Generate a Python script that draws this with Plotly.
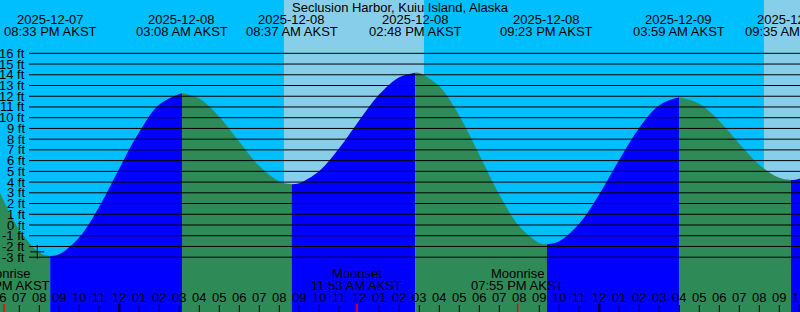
import pandas as pd
import plotly.graph_objects as go

# ---------------- data ----------------
station = "Seclusion Harbor, Kuiu Island, Alaska"
tz_label = "AKST"

tide_times = ["2025-12-07 20:33", "2025-12-08 03:08", "2025-12-08 08:37",
              "2025-12-08 14:48", "2025-12-08 21:23", "2025-12-09 03:59",
              "2025-12-09 09:35"]
tide_heights = [-2.9, 12.3, 3.8, 14.2, -1.8, 11.9, 4.2]

# hourly water level (ft), from 2025-12-07 18:00 onward
sample_start = "2025-12-07 18:00"
sample_heights = [3.12, -0.45, -2.58, -2.73, -1.15, 1.73,
                  5.27, 8.69, 11.22, 12.28, 11.79, 10.09, 7.75, 5.49, 4.06, 3.90,
                  5.03, 7.17, 9.77, 12.18, 13.78, 14.16, 12.92, 10.18, 6.55, 2.84,
                  -0.12, -1.67, -1.51, 0.13,
                  2.87, 6.08, 9.07, 11.16, 11.90, 11.29, 9.69, 7.58, 5.62, 4.40,
                  4.32, 5.51]

moon_times = ["2025-12-07 18:14", "2025-12-08 11:53", "2025-12-08 19:55"]
moon_events = ["Moonrise", "Moonset", "Moonrise"]

daylight_start = ["2025-12-08 08:14", "2025-12-09 08:14"]
daylight_end = ["2025-12-08 15:14", "2025-12-09 15:14"]

levels_ft = list(range(-3, 17))
hour_ticks_start = "2025-12-07 18:00"
hour_ticks_end = "2025-12-09 10:00"

mark_time = ["2025-12-07 19:54"]
mark_level = [-2.5]

view_start = "2025-12-07 18:02:06"
view_end = "2025-12-09 10:02:06"
y_view = [-8.108, 20.969]

# ---------------- style ----------------
W, H = 800, 312
NIGHT = "#00BFFF"
DAY = "#87CEEB"
RISING = "#0000FF"
FALLING = "#2E8B57"
FONT = dict(family="Liberation Sans, Arial, sans-serif", size=13, color="black")

v0, v1 = pd.Timestamp(view_start), pd.Timestamp(view_end)


def py(px):
    """pixel row from top -> paper fraction"""
    return 1 - px / H


def px_of(t):
    """time -> paper x fraction along the time axis (may fall outside 0..1)"""
    return (pd.Timestamp(t) - v0) / (v1 - v0)


fig = go.Figure()

# ---------------- tide fill ----------------
ext = pd.to_datetime(tide_times)
samples = pd.Series(sample_heights,
                    index=pd.date_range(sample_start, periods=len(sample_heights), freq="h"))
keep = [all(abs((t - e).total_seconds()) > 600 for e in ext) for t in samples.index]
samples = samples[keep]
curve = pd.concat([samples, pd.Series(tide_heights, index=ext)]).sort_index()

bounds = [curve.index[0]] + list(ext) + [curve.index[-1]]
floor = y_view[0] - 1
for a, b in zip(bounds[:-1], bounds[1:]):
    seg = curve[(curve.index >= a) & (curve.index <= b)]
    if len(seg) < 2:
        continue
    color = RISING if seg.iloc[-1] > seg.iloc[0] else FALLING
    fig.add_trace(go.Scatter(x=[a, b], y=[floor, floor], mode="lines",
                             line=dict(width=0), hoverinfo="skip", showlegend=False))
    fig.add_trace(go.Scatter(x=seg.index, y=seg.values, mode="lines",
                             line=dict(width=0, shape="spline", smoothing=1),
                             fill="tonexty", fillcolor=color,
                             hoverinfo="skip", showlegend=False))

fig.add_trace(go.Scatter(x=pd.to_datetime(mark_time), y=mark_level, mode="markers",
                         marker=dict(symbol="cross-thin", size=10,
                                     line=dict(width=1, color="black")),
                         hoverinfo="skip", showlegend=False))

shapes = []
# daylight backgrounds
for s, e in zip(daylight_start, daylight_end):
    shapes.append(dict(type="rect", xref="x", yref="paper", x0=s, x1=e, y0=0, y1=1,
                       fillcolor=DAY, line=dict(width=0), layer="below"))
# level lines
for lv in levels_ft:
    shapes.append(dict(type="line", xref="paper", yref="y", x0=29 / W, x1=1,
                       y0=lv, y1=lv, line=dict(color="black", width=1), layer="above"))

annotations = []
for lv in levels_ft:
    annotations.append(dict(xref="paper", yref="y", x=27 / W, y=lv, text=f"{lv} ft",
                            xanchor="right", yanchor="middle", showarrow=False, font=FONT))

# hour ticks
moon_dt = pd.to_datetime(moon_times)
for t in pd.date_range(hour_ticks_start, hour_ticks_end, freq="h"):
    annotations.append(dict(xref="paper", yref="paper", x=px_of(t), y=py(297.5),
                            text=t.strftime("%I"), xanchor="center", yanchor="middle",
                            showarrow=False, font=FONT))
    if any(abs((t - m).total_seconds()) < 1800 for m in moon_dt):
        continue
    midnight = t.hour == 0
    shapes.append(dict(type="line", xref="x", yref="paper", x0=t, x1=t,
                       y0=0, y1=(9 if midnight else 7) / H,
                       line=dict(color="black", width=2 if midnight else 1), layer="above"))

# moon events
for m, ev in zip(moon_dt, moon_events):
    shapes.append(dict(type="line", xref="x", yref="paper", x0=m, x1=m, y0=0, y1=8 / H,
                       line=dict(color="red", width=1.5), layer="above"))
    annotations.append(dict(xref="paper", yref="paper", x=px_of(m), y=py(273), text=ev,
                            xanchor="center", yanchor="middle", showarrow=False, font=FONT))
    annotations.append(dict(xref="paper", yref="paper", x=px_of(m), y=py(285.5),
                            text=m.strftime("%I:%M %p ") + tz_label,
                            xanchor="center", yanchor="middle", showarrow=False, font=FONT))

# tide headers
for t in ext:
    annotations.append(dict(xref="paper", yref="paper", x=px_of(t), y=py(19.5),
                            text=t.strftime("%Y-%m-%d"),
                            xanchor="center", yanchor="middle", showarrow=False, font=FONT))
    annotations.append(dict(xref="paper", yref="paper", x=px_of(t), y=py(31.5),
                            text=t.strftime("%I:%M %p ") + tz_label,
                            xanchor="center", yanchor="middle", showarrow=False, font=FONT))

annotations.append(dict(xref="paper", yref="paper", x=0.5, y=py(7.5), text=station,
                        xanchor="center", yanchor="middle", showarrow=False, font=FONT))

fig.update_layout(
    width=W, height=H, margin=dict(l=0, r=0, t=0, b=0),
    paper_bgcolor=NIGHT, plot_bgcolor=NIGHT,
    xaxis=dict(type="date", range=[view_start, view_end], visible=False, fixedrange=True),
    yaxis=dict(range=y_view, visible=False, fixedrange=True),
    shapes=shapes, annotations=annotations, showlegend=False,
)

fig.write_html("out.html", config={"displayModeBar": False, "staticPlot": True})
